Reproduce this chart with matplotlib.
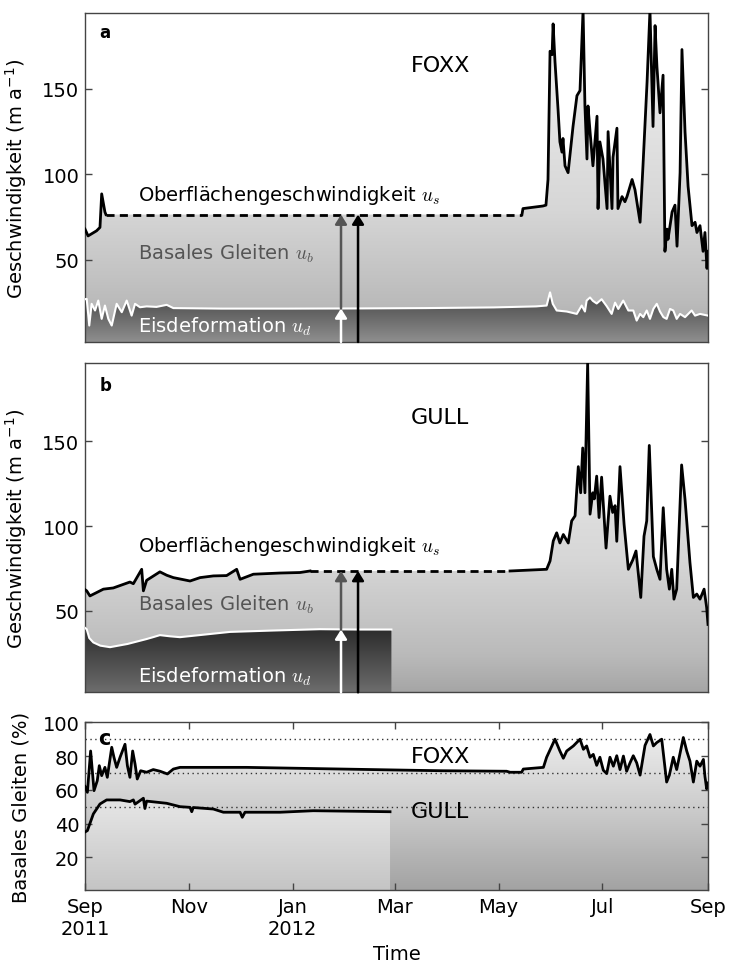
import numpy as np
import matplotlib
matplotlib.use('Agg')
import matplotlib.pyplot as plt
import matplotlib.dates as mdates
from matplotlib.colors import LinearSegmentedColormap

# day offsets are counted from 1 Sep 2011
t0 = mdates.datestr2num('2011-09-01')
t1 = mdates.datestr2num('2012-09-01')

# --- FOXX surface velocity (m/a), measured before and after the data gap
us_a_pre_d = [0, 1.8, 6.8, 8.8, 9.8, 11.7, 12.3]
us_a_pre_v = [68, 64, 67, 69, 88.6, 78, 76.5]
us_a_post_d = [256.7, 257.3, 269, 270.8, 272, 273.2, 274.4, 275, 276.1, 277.9, 279, 280.2,
               280.8, 282, 283.8, 286.7, 289, 290.8, 292.6, 293.7, 294.9, 295.5, 296.7,
               298.4, 300.8, 301.4, 302.5, 304.3, 306.7, 307.3, 309.6, 310.2, 312.5, 313.1,
               315.5, 317.2, 318.4, 321.4, 323.1, 326.1, 327.8, 330.2, 331.9, 333.7, 334.9,
               336, 337.8, 339.6, 340.7, 341.9, 342.5, 344.9, 346.6, 347.8, 349.6, 350.7,
               352.5, 354.3, 356.6, 358.4, 359.5, 361.3, 363.1, 364.2, 365.4, 366]
us_a_post_v = [76.5, 80, 81.5, 82, 97, 172, 170, 188, 166, 138, 119, 113,
               121, 105, 101, 128, 146, 149, 196, 140, 109, 140, 125,
               105, 134, 80, 119, 109, 80, 125, 80, 110, 127, 80,
               87, 84, 87, 97, 91, 72, 105, 154, 196, 128, 187,
               163, 136, 158, 55, 68, 62, 78, 82, 58, 101, 173,
               125, 93, 70, 72, 66, 70, 55, 66, 45, 55]

# --- FOXX ice deformation (m/a)
ud_a_d = [0, 1, 2.5, 3.9, 5.9, 7.8, 9.8, 11.7, 13.7, 15.7, 18.6, 21.6, 24.5, 27.4, 29.4,
          32.3, 36.2, 42, 48, 51.9, 80, 120, 160, 200, 240, 265, 271.2, 273.2, 274.8,
          277.1, 283, 288.9, 291.8, 293.7, 294.7, 296.7, 298.4, 300.6, 303.5, 306.5,
          309.4, 311.4, 313.3, 316.2, 319.2, 322.1, 324.1, 326.1, 328, 330, 331.9, 333.9,
          335.9, 337.8, 339.8, 341.7, 343.7, 345.6, 347.6, 349.6, 352.5, 354.4, 356.4,
          358.4, 361.3, 366]
ud_a_v = [27, 27.2, 11.6, 24.3, 20.4, 26.2, 15.5, 23.3, 15.5, 11.6, 24.3, 19.4, 26.2, 17.4, 24.3,
          22.3, 22.8, 22.5, 23.7, 21.8, 21.5, 21.5, 21.6, 21.8, 22.2, 22.8, 23.3, 31, 24.3,
          20.4, 19.8, 18.4, 23.3, 19.8, 26.2, 28, 26, 24.5, 27, 22.9,
          18.4, 25, 21.3, 26.2, 20.4, 20.4, 14.5, 18.4, 16.5, 20.4, 15.5, 21.3,
          24.3, 19.8, 16.5, 15.5, 21.3, 20.4, 15.5, 18.4, 16.5, 18.4, 20.4,
          17.4, 18.4, 17.4]

# --- GULL surface velocity (m/a)
us_b_pre_d = [0, 1, 2.9, 10.8, 16.6, 26.4, 28.4, 33.3, 34.3, 36.2, 44, 48, 51.9, 61.7,
              67.6, 75.4, 83.2, 89.1, 91.1, 98.9, 114.6, 126.3, 132.2]
us_b_pre_v = [62.5, 61.8, 58.8, 62.8, 63.5, 67, 66, 74.5, 61.8, 68, 73, 71, 69.6, 67.6,
              69.6, 70.6, 70.8, 74.5, 68.6, 71.6, 72.3, 72.6, 73.5]
us_b_post_d = [249.7, 271.2, 273.2, 275.1, 277.1, 279, 281, 283.9, 285.9, 287.9, 289.8, 291.2,
               292.4, 293.7, 295.3, 296.7, 298.3, 299.2, 300.6, 302, 303.5, 306.1, 308.4,
               310, 311.4, 312.4, 314.3, 316.7, 319.2, 321.8, 323.7, 326.5, 328.4, 330,
               331.5, 333.9, 335.9, 337.8, 339.7, 341.7, 343.3, 344.7, 346, 347.6, 350.5,
               352.5, 355.4, 357.4, 359.4, 361.3, 363.7, 365.2, 366]
us_b_post_v = [73.5, 74.5, 79.4, 91.2, 96, 90, 95, 90, 103, 106, 135, 119.6,
               146, 119.6, 196, 107, 119.6, 116, 129.4, 105, 128.8, 87, 117.6,
               108, 112, 91, 135, 101, 74.5, 80, 85.3, 57.9, 94, 103,
               147.5, 82, 74.5, 68.6, 110.8, 74.5, 62.8, 74.5, 56.9, 62.8, 136,
               115.7, 78.4, 57.9, 59.9, 56.9, 62.8, 52, 42]

# --- GULL ice deformation (m/a), only until end of February
ud_b_d = [0, 1, 2.5, 4.9, 9, 14.7, 25, 36.2, 40, 44, 50, 55.8, 70, 85.2, 110, 138, 160, 180]
ud_b_v = [40, 39.2, 34, 31.4, 29.5, 28.6, 30.5, 33.4, 34.5, 35.7, 35, 34.5, 36, 37.6, 38.4,
          39.2, 39, 39]

# --- basal sliding fraction (%)
foxx_d = [0, 1.4, 3.3, 5.3, 7.2, 8.4, 9.8, 11.7, 13.1, 15.7, 17, 18.6, 20.6, 23.5, 24.9, 26.4,
          28, 29.4, 30.7, 32.7, 36.2, 40.1, 44.1, 48.4, 51.9, 55.8, 95, 134, 191, 210, 247.7,
          249.7, 256.5, 257.5, 269.3, 271.2, 276.1, 279, 281, 283, 286.9, 290.8, 292.8, 294.7,
          296.7, 298.6, 300.6, 302.5, 304.5, 306.5, 308.4, 310.4, 312.4, 314.3, 316.3, 318.2,
          320.2, 322.1, 324.1, 326.1, 329, 331.9, 333.9, 335.9, 338.8, 341.7, 343.3, 345.6,
          347.6, 351.5, 353.5, 355.4, 357.4, 359.4, 361.3, 363.3, 364.2, 365.2, 366]
foxx_v = [62, 58.5, 83, 59.5, 65.4, 74.3, 68.4, 73.3, 67.4, 85.2, 79.3, 73.3, 79.3, 87, 74.3, 67.4,
          83, 75.3, 66.4, 71.3, 70.4, 72, 71, 69.4, 72.3, 73.3, 73.3, 72.6, 71.6, 71.3, 71,
          70.4, 70.4, 72.3, 73.3, 79.3, 90, 83, 78.7, 83, 86, 90, 84, 86,
          79.3, 81, 74.5, 79.3, 71.6, 69.6, 79.3, 74, 80.2, 72, 80, 71,
          76, 80.2, 76, 68.7, 86.3, 92.8, 86, 88, 90, 64.6, 68.7, 79.3,
          72, 91, 83, 77, 64.6, 77, 74, 78, 68, 60.6, 64]
gull_d = [0, 1.4, 4.9, 8.8, 12.7, 20.6, 26.4, 28.4, 29.4, 34.3, 35.2, 36.2, 48, 55.8, 61.7,
          62.7, 63.6, 75.4, 81.3, 91.1, 92.4, 94, 114.6, 134.1, 179.2]
gull_v = [35, 35.8, 45.7, 51.6, 54, 54, 53, 54, 51.5, 55, 48.9, 53.3, 52, 50, 49.6,
          47, 49.5, 48.6, 46.7, 46.7, 43.7, 46.7, 46.7, 47.6, 47]

tick_dates = ['2011-09-01', '2011-11-01', '2012-01-01', '2012-03-01',
              '2012-05-01', '2012-07-01', '2012-09-01']
tick_labels = ['Sep\n2011', 'Nov', 'Jan\n2012', 'Mar', 'May', 'Jul', 'Sep']
ref_lines = [50, 70, 90]

plt.rcParams['font.family'] = 'DejaVu Sans'
plt.rcParams['font.size'] = 14

basal_cmap = LinearSegmentedColormap.from_list(
    'basal', [(0, '#a4a4a4'), (0.12, '#bababa'), (0.4, '#d6d6d6'), (1, '#f4f4f4')])
deform_a_cmap = LinearSegmentedColormap.from_list('defa', ['#949494', '#4c4c4c'])
deform_b_cmap = LinearSegmentedColormap.from_list('defb', ['#707070', '#2a2a2a'])
frac_cmap = LinearSegmentedColormap.from_list(
    'frac', [(0, '#a2a2a2'), (0.5, '#cdcdcd'), (0.7, '#dcdcdc'), (1, '#f2f2f2')])
gull_cmap = LinearSegmentedColormap.from_list('gull', ['#c4c4c4', '#e2e2e2'])


def days(d):
    return t0 + np.asarray(d, dtype=float)


def gradient_fill(ax, x, y, cmap, vmax, zorder=0.5):
    # vertical colour gradient clipped to the area under the curve
    poly = ax.fill_between(x, 0, y, facecolor='none', edgecolor='none')
    path = poly.get_paths()[0]
    top = max(np.max(y), vmax)
    grad = np.clip(np.linspace(0, top, 400) / vmax, 0, 1).reshape(-1, 1)
    im = ax.imshow(grad, extent=[x[0], x[-1], 0, top], origin='lower', aspect='auto',
                   cmap=cmap, vmin=0, vmax=1, zorder=zorder, interpolation='bilinear')
    im.set_clip_path(path, transform=ax.transData)


def style_axes(ax):
    for s in ax.spines.values():
        s.set_color('#444444')
        s.set_linewidth(1.0)
    ax.tick_params(axis='y', direction='in', left=True, right=True, length=5, width=1,
                   color='#444444', pad=4)
    ax.set_xlim(t0, t1)
    ax.set_xticks(mdates.datestr2num(tick_dates))


def velocity_panel(ax, pre_d, pre_v, post_d, post_v, ud_d, ud_v, deform_cmap, deform_vmax,
                   ylim, arrow_ud, arrow_us, letter, name):
    x_all = days(list(pre_d) + list(post_d))
    v_all = np.array(list(pre_v) + list(post_v))
    gradient_fill(ax, x_all, v_all, basal_cmap, 195, zorder=0.5)
    gradient_fill(ax, days(ud_d), np.array(ud_v), deform_cmap, deform_vmax, zorder=0.6)

    ax.plot(days(pre_d), pre_v, color='black', lw=2, zorder=3)
    ax.plot(days(post_d), post_v, color='black', lw=2, zorder=3)
    ax.plot(days([pre_d[-1], post_d[0]]), [pre_v[-1], post_v[0]], color='black', lw=2,
            dashes=(2.9, 1.9), zorder=3)
    ax.plot(days(ud_d), ud_v, color='white', lw=1.5, zorder=3)

    xa = days(150.4)
    xb = days(160.4)
    head = '-|>,head_length=0.4,head_width=0.25'
    ax.annotate('', xy=(xa, arrow_ud), xytext=(xa, ylim[0]),
                arrowprops=dict(arrowstyle=head, color='white', lw=1.8, shrinkA=0,
                                shrinkB=0, mutation_scale=14), zorder=4)
    ax.annotate('', xy=(xa, arrow_us), xytext=(xa, arrow_ud),
                arrowprops=dict(arrowstyle=head, color='#555555', lw=1.8, shrinkA=0,
                                shrinkB=0, mutation_scale=14), zorder=4)
    ax.annotate('', xy=(xb, arrow_us), xytext=(xb, ylim[0]),
                arrowprops=dict(arrowstyle=head, color='black', lw=1.8, shrinkA=0,
                                shrinkB=0, mutation_scale=14), zorder=4)

    ax.text(days(31), 88.5, r'Oberflächengeschwindigkeit $u_s$', fontsize=14,
            va='center', math_fontfamily='cm', zorder=5)
    ax.text(days(31), 54, r'Basales Gleiten $u_b$', fontsize=14, color='#555555',
            va='center', math_fontfamily='cm', zorder=5)
    ax.text(days(31), 11.7, r'Eisdeformation $u_d$', fontsize=14, color='white',
            va='center', math_fontfamily='cm', zorder=5)
    ax.text(days(8.3), 183, letter, fontsize=12, fontweight='bold', va='center', zorder=5)
    ax.text(days(208.6), 164, name, fontsize=16, ha='center', va='center', zorder=5)

    style_axes(ax)
    ax.tick_params(axis='x', bottom=False, top=False, labelbottom=False)
    ax.set_ylim(*ylim)
    ax.set_yticks([50, 100, 150])
    ax.set_ylabel(r'Geschwindigkeit (m a$^{-1}$)', fontsize=14)
    ax.yaxis.set_label_coords(-0.09, 0.5)


fig = plt.figure(figsize=(7.29, 9.62), dpi=100)
ax1 = fig.add_axes([0.1166, 0.6435, 0.8546, 0.342])
ax2 = fig.add_axes([0.1166, 0.2793, 0.8546, 0.342])
ax3 = fig.add_axes([0.1166, 0.0738, 0.8546, 0.1743])

velocity_panel(ax1, us_a_pre_d, us_a_pre_v, us_a_post_d, us_a_post_v, ud_a_d, ud_a_v,
               deform_a_cmap, 28, (2, 194.4), 21.6, 76.5, 'a', 'FOXX')
velocity_panel(ax2, us_b_pre_d, us_b_pre_v, us_b_post_d, us_b_post_v, ud_b_d, ud_b_v,
               deform_b_cmap, 40, (2, 195.9), 39, 73.5, 'b', 'GULL')

# basal sliding share
gradient_fill(ax3, days(foxx_d), np.array(foxx_v), frac_cmap, 100, zorder=0.5)
gradient_fill(ax3, days(gull_d), np.array(gull_v), gull_cmap, 47, zorder=0.6)
ax3.plot(days(foxx_d), foxx_v, color='black', lw=2, zorder=3)
ax3.plot(days(gull_d), gull_v, color='black', lw=2, zorder=3)
for r in ref_lines:
    ax3.axhline(r, color='#333333', lw=1, ls=(0, (1, 2.5)), zorder=2.5)
ax3.text(days(7.5), 91, 'c', fontsize=15, fontweight='bold', va='center', zorder=5)
ax3.text(days(208.6), 80, 'FOXX', fontsize=16, ha='center', va='center', zorder=5)
ax3.text(days(208.6), 47.5, 'GULL', fontsize=16, ha='center', va='center', zorder=5)

style_axes(ax3)
ax3.tick_params(axis='x', direction='in', bottom=True, top=True, length=5, width=1,
                color='#444444', pad=5)
ax3.set_xticklabels(tick_labels, fontsize=14)
ax3.set_ylim(0.6, 100)
ax3.set_yticks([20, 40, 60, 80, 100])
ax3.set_ylabel('Basales Gleiten (%)', fontsize=14)
ax3.yaxis.set_label_coords(-0.088, 0.5)
ax3.set_xlabel('Time', fontsize=14)

fig.savefig('out.png', dpi=100)
